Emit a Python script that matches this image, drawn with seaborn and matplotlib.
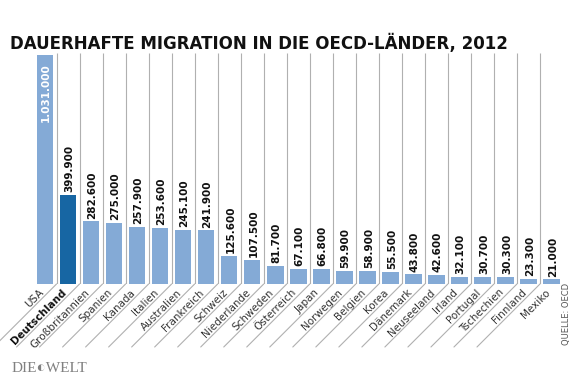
import matplotlib
matplotlib.use("Agg")
import matplotlib.pyplot as plt
import seaborn as sns
from matplotlib.lines import Line2D

countries = ["USA", "Deutschland", "Großbritannien", "Spanien", "Kanada", "Italien",
             "Australien", "Frankreich", "Schweiz", "Niederlande", "Schweden",
             "Österreich", "Japan", "Norwegen", "Belgien", "Korea", "Dänemark",
             "Neuseeland", "Irland", "Portugal", "Tschechien", "Finnland", "Mexiko"]
values = [1031000, 399900, 282600, 275000, 257900, 253600, 245100, 241900,
          125600, 107500, 81700, 67100, 66800, 59900, 58900, 55500, 43800,
          42600, 32100, 30700, 30300, 23300, 21000]
labels = ["1.031.000", "399.900", "282.600", "275.000", "257.900", "253.600",
          "245.100", "241.900", "125.600", "107.500", "81.700", "67.100",
          "66.800", "59.900", "58.900", "55.500", "43.800", "42.600", "32.100",
          "30.700", "30.300", "23.300", "21.000"]

light = "#84aad6"
dark = "#1766a3"
palette = [dark if c == "Deutschland" else light for c in countries]

sns.set_style("white")
plt.rcParams['font.family'] = ['DejaVu Sans']

fig = plt.figure(figsize=(5.8, 3.86), dpi=100)
ax = fig.add_axes([33.5 / 580, 1 - 284 / 386, (563 - 33.5) / 580, 231 / 386])

sns.barplot(x=countries, y=values, hue=countries, palette=palette, legend=False,
            width=0.72, saturation=1, linewidth=0, ax=ax, zorder=2)

n = len(countries)
top = 1.041e6
ax.set_xlim(-0.5, n - 0.5)
ax.set_ylim(0, top)
ax.axis("off")

# separators
ax.vlines([i + 0.5 for i in range(n - 1)], 0, top, color="#b0b0b0", lw=0.8, zorder=1)
inv = fig.transFigure.inverted()
for i in range(n - 1):
    px, py = ax.transData.transform((i + 0.5, 0))
    p0 = inv.transform((px, py))
    p1 = inv.transform((px - 63, py - 63))
    fig.add_artist(Line2D([p0[0], p1[0]], [p0[1], p1[1]], color="#b0b0b0", lw=0.8))

# value labels
for i, (v, lab) in enumerate(zip(values, labels)):
    if i == 0:
        ax.annotate(lab, (i, v), xytext=(0.5, -6), textcoords="offset points",
                    rotation=90, ha="center", va="top", color="white",
                    fontsize=7.5, fontweight="bold")
    else:
        ax.annotate(lab, (i, v), xytext=(1, 2), textcoords="offset points",
                    rotation=90, ha="center", va="bottom", color="#111111",
                    fontsize=7.5, fontweight="bold")

# category labels, baseline running along the diagonal on the right
for i, c in enumerate(countries):
    ax.annotate(c, (i - 0.05, 0), xytext=(0, -9), textcoords="offset pixels",
                rotation=45, rotation_mode="anchor", ha="right", va="baseline",
                color="#111111" if c == "Deutschland" else "#333333",
                fontsize=7.5, fontweight="bold" if c == "Deutschland" else "normal",
                annotation_clip=False)

fig.text(10 / 580, 1 - 49 / 386, "DAUERHAFTE MIGRATION IN DIE OECD-LÄNDER, 2012",
         fontsize=12, fontweight="bold", ha="left", va="baseline", color="#111111")
fig.text(567 / 580, 1 - 283 / 386, "QUELLE: OECD", rotation=90, ha="center",
         va="top", fontsize=6, color="#555555")
fig.text(12 / 580, 1 - 368 / 386, "DIE◐WELT", ha="left", va="center",
         fontsize=11, color="#808080", family=["Liberation Serif", "DejaVu Sans"])

fig.savefig("out.png", dpi=100)
